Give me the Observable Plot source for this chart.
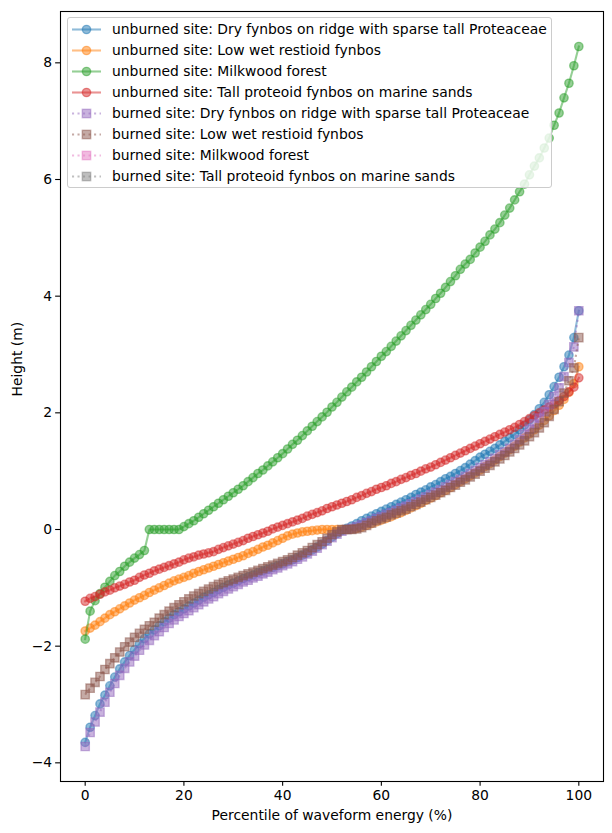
<!DOCTYPE html>
<html><head><meta charset="utf-8">
<script src="https://cdn.jsdelivr.net/npm/d3@7"></script>
<script src="https://cdn.jsdelivr.net/npm/@observablehq/plot@0.6"></script>
<style>
body{margin:0;background:#fff;}
#wrap{position:relative;width:612px;height:833px;font-family:"DejaVu Sans",sans-serif;}
#legend{position:absolute;left:67px;top:17px;width:483px;height:169px;background:rgba(255,255,255,0.8);border:1px solid #cccccc;border-radius:3px;}
.row{position:absolute;left:0;height:21px;display:flex;align-items:center;font-size:13.89px;white-space:nowrap;color:#000;}
.row svg{flex:none;}
</style></head>
<body><div id="wrap"><div id="legend"></div></div>
<script>
// ---- data ----
const pct = [0,1,2,3,4,5,6,7,8,9,10,11,12,13,14,15,16,17,18,19,20,21,22,23,24,25,26,27,28,29,30,31,32,33,34,35,36,37,38,39,40,41,42,43,44,45,46,47,48,49,50,51,52,53,54,55,56,57,58,59,60,61,62,63,64,65,66,67,68,69,70,71,72,73,74,75,76,77,78,79,80,81,82,83,84,85,86,87,88,89,90,91,92,93,94,95,96,97,98,99,100];

const seriesNames = [
  "unburned site: Dry fynbos on ridge with sparse tall Proteaceae",
  "unburned site: Low wet restioid fynbos",
  "unburned site: Milkwood forest",
  "unburned site: Tall proteoid fynbos on marine sands",
  "burned site: Dry fynbos on ridge with sparse tall Proteaceae",
  "burned site: Low wet restioid fynbos",
  "burned site: Milkwood forest",
  "burned site: Tall proteoid fynbos on marine sands"
];

const dryUnburned = [-3.65,-3.39,-3.19,-2.99,-2.84,-2.68,-2.53,-2.39,-2.27,-2.16,
-2.06,-1.96,-1.87,-1.79,-1.72,-1.65,-1.58,-1.52,-1.46,-1.41,
-1.36,-1.31,-1.26,-1.21,-1.16,-1.12,-1.08,-1.03,-0.99,-0.95,
-0.92,-0.88,-0.84,-0.81,-0.78,-0.74,-0.71,-0.68,-0.65,-0.62,
-0.59,-0.55,-0.52,-0.48,-0.44,-0.40,-0.35,-0.30,-0.25,-0.19,
-0.13,-0.07,-0.02,0.02,0.06,0.10,0.15,0.19,0.23,0.27,
0.31,0.35,0.39,0.43,0.47,0.51,0.55,0.60,0.64,0.68,
0.73,0.77,0.82,0.87,0.91,0.96,1.01,1.06,1.12,1.18,
1.24,1.29,1.34,1.39,1.45,1.51,1.57,1.63,1.71,1.79,
1.88,1.97,2.07,2.18,2.31,2.45,2.61,2.79,2.99,3.29,
3.75];

const lowWetUnburned = [-1.74,-1.69,-1.64,-1.58,-1.52,-1.46,-1.41,-1.36,-1.31,-1.26,
-1.21,-1.17,-1.13,-1.08,-1.04,-1.00,-0.96,-0.92,-0.88,-0.85,
-0.82,-0.79,-0.75,-0.72,-0.69,-0.66,-0.63,-0.60,-0.57,-0.54,
-0.51,-0.48,-0.45,-0.41,-0.38,-0.34,-0.30,-0.27,-0.23,-0.19,
-0.15,-0.11,-0.08,-0.06,-0.04,-0.03,-0.02,-0.01,0.00,0.00,
0.00,0.00,0.00,0.00,0.01,0.02,0.04,0.07,0.10,0.13,
0.16,0.19,0.22,0.26,0.29,0.33,0.37,0.41,0.45,0.50,
0.54,0.58,0.63,0.67,0.72,0.77,0.82,0.87,0.92,0.97,
1.02,1.08,1.13,1.19,1.25,1.31,1.37,1.43,1.50,1.57,
1.64,1.71,1.79,1.87,1.95,2.04,2.13,2.23,2.35,2.50,
2.79];

const milkwoodUnburned = [-1.88,-1.40,-1.22,-1.10,-0.99,-0.89,-0.79,-0.72,-0.63,-0.56,
-0.49,-0.43,-0.36,0.00,0.00,0.00,0.00,0.00,0.00,0.00,
0.05,0.10,0.15,0.21,0.27,0.33,0.39,0.45,0.51,0.57,
0.63,0.69,0.75,0.82,0.89,0.96,1.02,1.09,1.16,1.23,
1.30,1.38,1.46,1.53,1.61,1.69,1.77,1.85,1.93,2.01,
2.10,2.18,2.27,2.36,2.44,2.53,2.61,2.70,2.79,2.88,
2.97,3.05,3.14,3.23,3.32,3.41,3.50,3.59,3.68,3.77,
3.86,3.96,4.05,4.15,4.25,4.35,4.46,4.55,4.63,4.74,
4.84,4.94,5.05,5.15,5.26,5.39,5.51,5.65,5.79,5.92,
6.08,6.23,6.37,6.54,6.71,6.93,7.14,7.40,7.65,7.95,
8.28];

const tallUnburned = [-1.23,-1.18,-1.15,-1.11,-1.07,-1.04,-1.00,-0.97,-0.94,-0.90,
-0.87,-0.82,-0.78,-0.75,-0.71,-0.68,-0.65,-0.62,-0.59,-0.56,
-0.52,-0.49,-0.47,-0.44,-0.42,-0.40,-0.38,-0.34,-0.31,-0.28,
-0.25,-0.22,-0.19,-0.15,-0.12,-0.09,-0.06,-0.03,0.01,0.04,
0.07,0.10,0.13,0.16,0.19,0.23,0.26,0.29,0.32,0.36,
0.39,0.42,0.45,0.48,0.51,0.55,0.58,0.62,0.65,0.69,
0.72,0.75,0.79,0.82,0.86,0.89,0.93,0.96,1.00,1.04,
1.07,1.11,1.15,1.19,1.23,1.27,1.31,1.35,1.39,1.43,
1.47,1.51,1.55,1.59,1.63,1.67,1.71,1.75,1.80,1.85,
1.90,1.95,2.00,2.05,2.10,2.15,2.21,2.28,2.36,2.44,
2.60];

const dryBurned = [-3.72,-3.48,-3.30,-3.13,-2.96,-2.79,-2.64,-2.50,-2.38,-2.27,
-2.17,-2.07,-1.98,-1.90,-1.82,-1.75,-1.68,-1.61,-1.55,-1.49,
-1.44,-1.39,-1.34,-1.29,-1.24,-1.19,-1.15,-1.10,-1.06,-1.02,
-0.98,-0.94,-0.90,-0.87,-0.83,-0.80,-0.76,-0.73,-0.69,-0.66,
-0.62,-0.59,-0.55,-0.51,-0.47,-0.42,-0.37,-0.32,-0.26,-0.20,
-0.14,-0.08,-0.03,0.00,0.02,0.05,0.08,0.12,0.15,0.19,
0.22,0.26,0.29,0.33,0.37,0.40,0.44,0.48,0.52,0.56,
0.60,0.64,0.68,0.73,0.77,0.82,0.86,0.91,0.96,1.01,
1.06,1.11,1.16,1.22,1.28,1.33,1.39,1.46,1.54,1.63,
1.72,1.81,1.91,2.02,2.14,2.28,2.43,2.62,2.86,3.13,
3.75];

const lowWetBurned = [-2.83,-2.72,-2.62,-2.52,-2.40,-2.30,-2.20,-2.10,-2.01,-1.93,
-1.85,-1.78,-1.71,-1.65,-1.59,-1.52,-1.46,-1.40,-1.34,-1.29,
-1.24,-1.19,-1.14,-1.10,-1.06,-1.02,-0.98,-0.94,-0.91,-0.88,
-0.85,-0.82,-0.79,-0.76,-0.73,-0.70,-0.67,-0.64,-0.61,-0.58,
-0.55,-0.52,-0.48,-0.44,-0.40,-0.36,-0.31,-0.26,-0.21,-0.15,
-0.09,-0.04,0.00,0.00,0.00,0.01,0.03,0.07,0.11,0.15,
0.18,0.21,0.25,0.28,0.32,0.35,0.39,0.43,0.47,0.51,
0.55,0.59,0.63,0.67,0.72,0.76,0.81,0.85,0.90,0.95,
1.00,1.05,1.10,1.16,1.21,1.27,1.33,1.39,1.45,1.52,
1.59,1.66,1.74,1.83,1.94,2.06,2.19,2.34,2.55,2.77,
3.29];

const milkwoodBurned = [];
const tallBurned = [];

const seriesValues = [dryUnburned, lowWetUnburned, milkwoodUnburned, tallUnburned,
                      dryBurned, lowWetBurned, milkwoodBurned, tallBurned];
const seriesColors = ["#1f77b4","#ff7f0e","#2ca02c","#d62728","#9467bd","#8c564b","#e377c2","#7f7f7f"];
const seriesBurned = [false,false,false,false,true,true,true,true];

const xTicks = [0,20,40,60,80,100];
const yTicks = [-4,-2,0,2,4,6,8];
const xLabel = "Percentile of waveform energy (%)";
const yLabel = "Height (m)";

// ---- styling ----
const LW = 2.08, MEW = 1.39, CIRCLE_R = 4.17, SQUARE_R = 4.7, DASH = "2.08,3.43";

const marks = [];
seriesValues.forEach((vals, i) => {
  const rows = vals.map((v, j) => ({x: pct[j], y: v}));
  if (!rows.length) return;
  const c = seriesColors[i];
  marks.push(Plot.line(rows, {x: "x", y: "y", stroke: c, strokeOpacity: 0.5, strokeWidth: LW,
    strokeDasharray: seriesBurned[i] ? DASH : null, strokeLinejoin: "round",
    strokeLinecap: seriesBurned[i] ? "butt" : "square"}));
  marks.push(Plot.dot(rows, {x: "x", y: "y", symbol: seriesBurned[i] ? "square" : "circle",
    r: seriesBurned[i] ? SQUARE_R : CIRCLE_R, fill: c, fillOpacity: 0.5,
    stroke: c, strokeOpacity: 0.5, strokeWidth: MEW}));
});

const fmt = d => d < 0 ? "\u2212" + Math.abs(d) : String(d);

const plot = Plot.plot({
  width: 612, height: 833,
  marginLeft: 60, marginRight: 9, marginTop: 11, marginBottom: 52,
  x: {domain: [-5, 105]},
  y: {domain: [-4.32, 8.88]},
  style: {fontFamily: "DejaVu Sans", fontSize: "13.89px", color: "black", background: "white", overflow: "visible"},
  marks: [
    ...marks,
    Plot.frame({stroke: "black", strokeWidth: 1.1}),
    Plot.axisX({ticks: xTicks, tickSize: 4.86, tickPadding: 3.5, tickFormat: fmt, label: null, strokeWidth: 1.1}),
    Plot.axisY({ticks: yTicks, tickSize: 4.86, tickPadding: 3.5, tickFormat: fmt, label: null, strokeWidth: 1.1}),
    Plot.text([xLabel], {text: d => d, frameAnchor: "bottom", dy: 38, fontSize: 13.89}),
    Plot.text([yLabel], {text: d => d, frameAnchor: "left", dx: -43, rotate: -90, fontSize: 13.89})
  ]
});
const wrap = document.getElementById("wrap");
wrap.insertBefore(plot, wrap.firstChild);

// ---- legend ----
const legend = document.getElementById("legend");
seriesNames.forEach((name, i) => {
  const row = document.createElement("div");
  row.className = "row";
  row.style.top = (0.8 + i * 20.96) + "px";
  const c = seriesColors[i];
  const burned = seriesBurned[i];
  const ns = "http://www.w3.org/2000/svg";
  const svg = document.createElementNS(ns, "svg");
  svg.setAttribute("width", 44); svg.setAttribute("height", 21);
  const line = document.createElementNS(ns, "line");
  line.setAttribute("x1", 4); line.setAttribute("x2", 33);
  line.setAttribute("y1", 10.5); line.setAttribute("y2", 10.5);
  line.setAttribute("stroke", c); line.setAttribute("stroke-opacity", 0.5);
  line.setAttribute("stroke-width", LW);
  if (burned) line.setAttribute("stroke-dasharray", DASH);
  svg.appendChild(line);
  let m;
  if (burned) {
    m = document.createElementNS(ns, "rect");
    m.setAttribute("x", 18.5 - 4.17); m.setAttribute("y", 10.5 - 4.17);
    m.setAttribute("width", 8.33); m.setAttribute("height", 8.33);
  } else {
    m = document.createElementNS(ns, "circle");
    m.setAttribute("cx", 18.5); m.setAttribute("cy", 10.5); m.setAttribute("r", CIRCLE_R);
  }
  m.setAttribute("fill", c); m.setAttribute("fill-opacity", 0.5);
  m.setAttribute("stroke", c); m.setAttribute("stroke-opacity", 0.5);
  m.setAttribute("stroke-width", MEW);
  svg.appendChild(m);
  row.appendChild(svg);
  const t = document.createElement("span");
  t.textContent = name;
  row.appendChild(t);
  legend.appendChild(row);
});
</script></body></html>
